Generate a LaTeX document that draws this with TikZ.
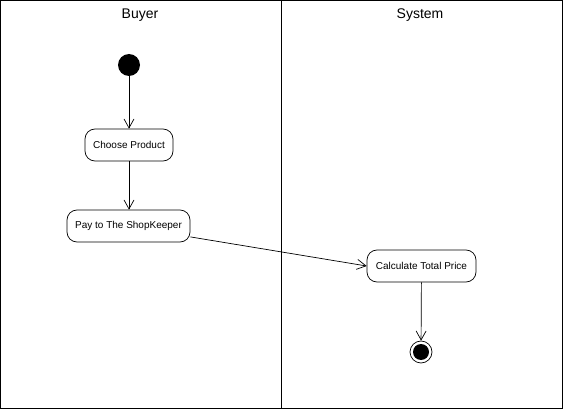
\documentclass[tikz,border=0pt]{standalone}
\usepackage{fontspec}
\setmainfont{Liberation Sans}
\usetikzlibrary{arrows.meta}
\tikzset{activity/.style={draw, rounded corners=10pt, minimum height=32pt, inner sep=0pt, font=\fontsize{10}{12}\selectfont, line width=0.7pt}}
\tikzset{flow/.style={-{Straight Barb[length=9pt, width=10pt]}, line width=0.7pt}}
\tikzset{lanetitle/.style={font=\fontsize{14}{16}\selectfont}}

\begin{document}
\begin{tikzpicture}[x=1pt, y=-1pt]
\useasboundingbox (0,0) rectangle (563,409);
\draw[line width=0.8pt] (0.5,0.5) rectangle (562.5,408.5);
\draw[line width=0.8pt] (281,0.5) -- (281,408.5);
\node[lanetitle] (buyer) at (140,15) {Buyer};
\node[lanetitle] (system) at (420,15) {System};
\node[circle, fill=black, minimum size=22pt, inner sep=0pt] (start) at (129,65) {};
\node[activity, minimum width=88pt] (choose) at (129,145) {Choose Product};
\node[activity, minimum width=123pt] (pay) at (128.5,226) {Pay to The ShopKeeper};
\node[activity, minimum width=109pt] (calc) at (421.5,266) {Calculate Total Price};
\node[circle, draw, line width=0.7pt, minimum size=22pt, inner sep=0pt,
  path picture={\fill (path picture bounding box.center) circle (8pt);}] (finish) at (421,352) {};
\draw[flow] (start) -- (choose);
\draw[flow] (choose) -- (pay.north -| choose);
\draw[flow] (pay.-10) -- (calc.west);
\draw[flow] (calc) -- (finish);
\end{tikzpicture}
\end{document}
